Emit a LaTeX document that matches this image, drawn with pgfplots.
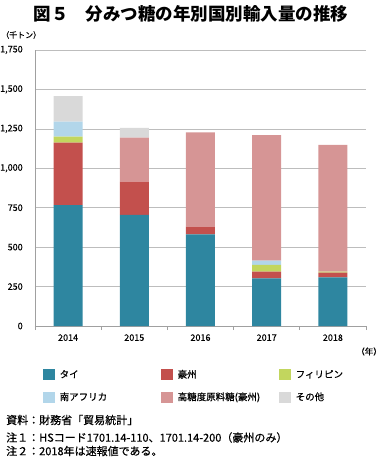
\documentclass[border=0pt]{standalone}
\usepackage{fontspec}
\setmainfont{Noto Sans CJK JP}
\newfontfamily\medfont[FakeBold=0.35]{Noto Sans CJK JP}
\usepackage{pgfplots}
\pgfplotsset{compat=1.18}
\definecolor{cThai}{HTML}{2E86A0}
\definecolor{cAus}{HTML}{C3504D}
\definecolor{cPhil}{HTML}{C2D65E}
\definecolor{cSA}{HTML}{B2D6EA}
\definecolor{cHi}{HTML}{D69595}
\definecolor{cOth}{HTML}{D9D9D9}
\definecolor{gridc}{HTML}{BDBDBD}
\definecolor{axc}{HTML}{A0A0A0}
\begin{document}
\begin{tikzpicture}[x=1pt,y=1pt]
\useasboundingbox (0,0) rectangle (382,458);
\node[font=\fontsize{17.5}{20}\selectfont\bfseries] at (191,444) {図５　分みつ糖の年別国別輸入量の推移};
\node[font=\medfont\fontsize{8}{9}\selectfont, anchor=west, inner sep=0pt] at (1,423) {（千トン）};
\node[font=\medfont\fontsize{8.5}{10}\selectfont, anchor=east, inner sep=0pt] at (382,106.5) {（年）};
\begin{axis}[
  at={(35pt,132pt)}, anchor=south west,
  scale only axis, width=331pt, height=276pt,
  ybar stacked, bar width=29pt,
  xmin=-0.5, xmax=4.5, ymin=0, ymax=1750,
  ytick={0,250,...,1750},
  xtick={0,1,2,3,4},
  xticklabels={2014,2015,2016,2017,2018},
  minor xtick={-0.5,0.5,...,4.5},
  axis lines*=left,
  axis line style={draw=axc, line width=0.8pt},
  ymajorgrids, major grid style={draw=gridc, line width=0.7pt},
  major tick style={draw=none},
  minor tick style={draw=axc, line width=0.6pt},
  minor tick length=4pt,
  tick align=outside,
  ticklabel style={font=\medfont\fontsize{9}{10}\selectfont},
  yticklabel style={xshift=-4.5pt},
  xticklabel style={yshift=-0.5pt},
  /pgf/number format/.cd, 1000 sep={,}, assume math mode=true,
  /pgfplots/.cd,
  every axis plot/.append style={draw=none},
  legend columns=3,
  legend image code/.code={\path[#1,draw=none] (0pt,-5.5pt) rectangle (12pt,5.5pt);},
  legend style={at={(axis description cs:0.0233,-0.1355)}, anchor=north west,
    draw=none, inner sep=0pt, outer sep=0pt,
    font=\medfont\fontsize{9.5}{11}\selectfont,
    nodes={text width=96pt, align=left, minimum height=22.5pt, inner ysep=0pt, inner xsep=5pt, anchor=west}},
]
\addplot[fill=cThai] coordinates {(0,767) (1,704) (2,581) (3,302) (4,309)};
\addplot[fill=cAus] coordinates {(0,395) (1,211) (2,49) (3,42) (4,29)};
\addplot[fill=cPhil] coordinates {(0,38) (1,0) (2,0) (3,43) (4,6)};
\addplot[fill=cSA] coordinates {(0,96) (1,0) (2,0) (3,27) (4,0)};
\addplot[fill=cHi] coordinates {(0,0) (1,279) (2,598) (3,797) (4,804)};
\addplot[fill=cOth] coordinates {(0,162) (1,63) (2,0) (3,0) (4,0)};
\legend{タイ,豪州,フィリピン,南アフリカ,高糖度原料糖(豪州),その他}
\end{axis}
\node[font=\medfont\fontsize{11}{13}\selectfont, anchor=west, inner sep=0pt] at (6,38) {資料：財務省「貿易統計」};
\node[font=\medfont\fontsize{11}{13}\selectfont, anchor=west, inner sep=0pt] at (6,20.5) {注１：HSコード1701.14-110、1701.14-200（豪州のみ）};
\node[font=\medfont\fontsize{11}{13}\selectfont, anchor=west, inner sep=0pt] at (6,7) {注２：2018年は速報値である。};
\end{tikzpicture}
\end{document}
